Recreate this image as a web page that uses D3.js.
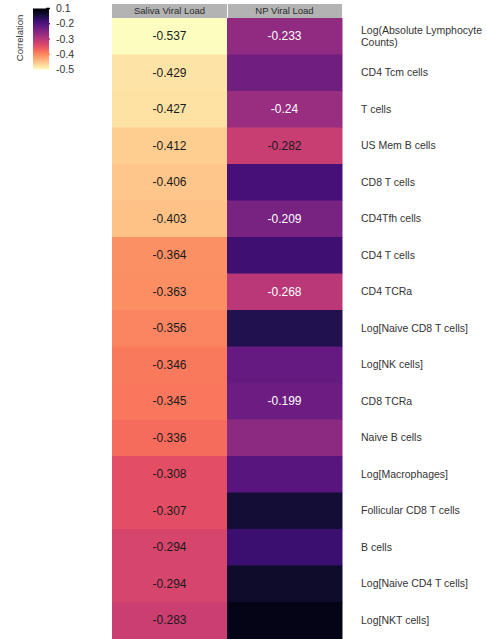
<html>
<head>
    <meta charset="utf-8">
    <title>Correlation heatmap</title>
    <script src="https://d3js.org/d3.v7.min.js" charset="utf-8"></script>
    <style>
        body { margin: 0; background: #fff; }
        text { font-family: "Liberation Sans", Arial, Helvetica, sans-serif; }
    </style>
</head>
<body>
    <div id="chart"></div>
    <script>
        // data
        const rows = ["Log(Absolute Lymphocyte Counts)", "CD4 Tcm cells", "T cells", "US Mem B cells",
            "CD8 T cells", "CD4Tfh cells", "CD4 T cells", "CD4 TCRa", "Log[Naive CD8 T cells]",
            "Log[NK cells]", "CD8 TCRa", "Naive B cells", "Log[Macrophages]", "Follicular CD8 T cells",
            "B cells", "Log[Naive CD4 T cells]", "Log[NKT cells]"];
        const columns = ["Saliva Viral Load", "NP Viral Load"];
        const saliva = [-0.537, -0.429, -0.427, -0.412, -0.406, -0.403, -0.364, -0.363, -0.356,
            -0.346, -0.345, -0.336, -0.308, -0.307, -0.294, -0.294, -0.283];
        // values without a label are estimated from the colour
        const np = [-0.233, -0.202, -0.24, -0.282, -0.165, -0.209, -0.158, -0.268, -0.132,
            -0.191, -0.199, -0.228, -0.18, -0.117, -0.154, -0.11, -0.095];
        const npShown = [true, false, true, true, false, true, false, true, false,
            false, true, false, false, false, false, false, false];
        const legendTicks = [-0.1, -0.2, -0.3, -0.4, -0.5];
        const legendLabels = ["0.1", "-0.2", "-0.3", "-0.4", "-0.5"];

        const width = 487, height = 639;
        const gridLeft = 112, gridTop = 18, cellW = 115, rowH = 36.5;

        const svg = d3.select("#chart").append("svg")
            .attr("width", width)
            .attr("height", height);

        const x = d3.scaleBand().domain(columns).range([gridLeft, gridLeft + 2 * cellW]);
        const y = d3.scaleBand().domain(rows).range([gridTop, gridTop + rows.length * rowH]);

        // reversed magma, clamped at the light end
        const tScale = d3.scaleLinear().domain([-0.08, -0.45]).range([0, 1]).clamp(true);
        const color = v => d3.interpolateMagma(tScale(v));

        let cells = [];
        rows.forEach((r, i) => {
            cells.push({ row: r, col: columns[0], v: saliva[i], show: true });
            cells.push({ row: r, col: columns[1], v: np[i], show: npShown[i] });
        });

        svg.selectAll(".cell")
            .data(cells)
            .enter()
            .append("rect")
            .attr("class", "cell")
            .attr("x", d => x(d.col))
            .attr("y", d => y(d.row))
            .attr("width", x.bandwidth() + 0.5)
            .attr("height", y.bandwidth() + 0.5)
            .style("fill", d => color(d.v));

        svg.selectAll(".val")
            .data(cells.filter(d => d.show))
            .enter()
            .append("text")
            .attr("class", "val")
            .attr("x", d => x(d.col) + x.bandwidth() / 2)
            .attr("y", d => y(d.row) + y.bandwidth() / 2)
            .attr("dy", "0.35em")
            .attr("text-anchor", "middle")
            .style("font-size", "12px")
            .style("fill", d => tScale(d.v) > 0.52 ? "#1a1a1a" : "#ffffff")
            .text(d => String(d.v));

        // facet strips
        svg.selectAll(".strip")
            .data(columns)
            .enter()
            .append("rect")
            .attr("x", d => x(d) + (d == columns[1] ? 1 : 0))
            .attr("y", 4)
            .attr("width", d => x.bandwidth() - (d == columns[1] ? 1 : 0))
            .attr("height", gridTop - 4)
            .style("fill", "#b3b3b3");

        svg.selectAll(".stripText")
            .data(columns)
            .enter()
            .append("text")
            .attr("x", d => x(d) + x.bandwidth() / 2)
            .attr("y", 11)
            .attr("dy", "0.35em")
            .attr("text-anchor", "middle")
            .style("font-size", "9.5px")
            .style("fill", "#2b2b2b")
            .text(d => d);

        // row labels, wrapped when too long
        const labels = svg.selectAll(".rowLabel")
            .data(rows)
            .enter()
            .append("text")
            .attr("class", "rowLabel")
            .attr("x", 361)
            .attr("y", d => y(d) + y.bandwidth() / 2)
            .style("font-size", "10.5px")
            .style("fill", "#333");

        labels.each(function (d) {
            const t = d3.select(this);
            const words = d.split(" ");
            let lines = [], line = [];
            const probe = t.append("tspan");
            words.forEach(w => {
                line.push(w);
                probe.text(line.join(" "));
                if (probe.node().getComputedTextLength() > 124 && line.length > 1) {
                    line.pop();
                    lines.push(line.join(" "));
                    line = [w];
                }
            });
            lines.push(line.join(" "));
            probe.remove();
            const lh = 12;
            lines.forEach((l, k) => {
                t.append("tspan")
                    .attr("x", 361)
                    .attr("dy", k == 0 ? (0.35 * 10.5 - (lines.length - 1) * lh / 2) + "px" : lh + "px")
                    .text(l);
            });
        });

        // legend
        const legTop = 8.5, legBottom = 69.5, legX = 33, legW = 16;
        const ly = d3.scaleLinear().domain([-0.1, -0.5]).range([legTop, legBottom]);

        const defs = svg.append("defs");
        const grad = defs.append("linearGradient")
            .attr("id", "leg")
            .attr("x1", 0).attr("y1", 0).attr("x2", 0).attr("y2", 1);
        d3.range(0, 1.01, 0.1).forEach(s => {
            grad.append("stop")
                .attr("offset", s)
                .attr("stop-color", d3.interpolateMagma(s));
        });

        svg.append("rect")
            .attr("x", legX)
            .attr("y", legTop)
            .attr("width", legW)
            .attr("height", legBottom - legTop)
            .style("fill", "url(#leg)");

        svg.selectAll(".legTick")
            .data(legendTicks)
            .enter()
            .append("line")
            .attr("x1", legX + legW - 3)
            .attr("x2", legX + legW + 1)
            .attr("y1", d => ly(d))
            .attr("y2", d => ly(d))
            .style("stroke", d => d3.interpolateMagma((d + 0.1) / -0.4))
            .style("stroke-width", 1.5);

        svg.selectAll(".legLabel")
            .data(legendTicks)
            .enter()
            .append("text")
            .attr("x", 56)
            .attr("y", d => ly(d))
            .attr("dy", "0.35em")
            .style("font-size", "10.5px")
            .style("fill", "#333")
            .text((d, i) => legendLabels[i]);

        svg.append("text")
            .attr("transform", "translate(20,38) rotate(-90)")
            .attr("dy", "0.35em")
            .attr("text-anchor", "middle")
            .style("font-size", "9.5px")
            .style("fill", "#333")
            .text("Correlation");
</script>
</body>
</html>
